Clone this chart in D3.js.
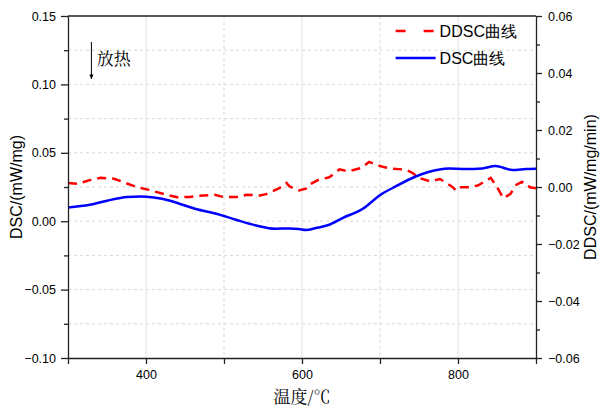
<!DOCTYPE html>
<html>
<head>
<meta charset="utf-8">
<script src="https://cdn.jsdelivr.net/npm/d3@7"></script>
<style>
  body { margin: 0; background: #fff; }
  text { font-family: "Liberation Sans", Arial, sans-serif; }
</style>
</head>
<body>
<div id="chart"></div>
<script>
// DSC curve (left axis)
const dscTemp   = [300, 328, 350, 376, 393, 410, 431, 447, 464, 490, 515, 541, 566, 584, 596, 605, 618, 635, 652, 678, 701, 720, 745, 762, 788, 809, 831, 848, 870, 887, 900];
const dscValues = [0.0101, 0.012, 0.015, 0.0177, 0.0181, 0.0174, 0.015, 0.012, 0.0089, 0.0055, 0.0011, -0.0031, -0.0055, -0.0053, -0.0057, -0.0064, -0.005, -0.0026, 0.0023, 0.0091, 0.0194, 0.0254, 0.0325, 0.036, 0.0386, 0.0381, 0.0386, 0.0403, 0.0374, 0.0381, 0.0384];

// DDSC curve (right axis)
const ddscTemp   = [300, 312, 329, 342, 359, 374, 389, 404, 423, 440, 456, 469, 488, 499, 518, 529, 546, 554, 571, 580, 584, 596, 605, 609, 622, 635, 648, 659, 676, 686, 695, 706, 716, 733, 742, 750, 764, 777, 792, 798, 804, 815, 826, 842, 850, 858, 867, 875, 882, 888, 892, 900];
const ddscValues = [0.0014, 0.0011, 0.0025, 0.0032, 0.0029, 0.0014, -0.0001, -0.001, -0.0025, -0.0036, -0.0035, -0.0031, -0.0027, -0.0035, -0.0035, -0.0027, -0.003, -0.0025, -0.0004, 0.0014, 0.0002, -0.0012, -0.0006, 0.0008, 0.0026, 0.0034, 0.0062, 0.0055, 0.0067, 0.0088, 0.0078, 0.0069, 0.0064, 0.0061, 0.0049, 0.0032, 0.002, 0.0028, 0.0002, -0.0013, -0.0001, -0.0001, 0.0006, 0.0032, 0.0, -0.0039, -0.0025, 0.0008, 0.0018, 0.0011, -0.0001, -0.0004];

const xTicks = [400, 600, 800];
const xMinorTicks = [300, 500, 700, 900];
const yLeftTicks = [-0.10, -0.05, 0.00, 0.05, 0.10, 0.15];
const yRightTicks = [-0.06, -0.04, -0.02, 0.00, 0.02, 0.04, 0.06];

const seriesNames = ["DDSC曲线", "DSC曲线"];
const seriesColors = ["#ff0000", "#0000ff"];

const margin = {top: 16, right: 64, bottom: 54, left: 68};
const W = 600, H = 412;
const width = W - margin.left - margin.right;
const height = H - margin.top - margin.bottom;

const svg = d3.select("#chart").append("svg")
    .attr("width", W)
    .attr("height", H)
    .append("g")
    .attr("transform", `translate(${margin.left},${margin.top})`);

const x = d3.scaleLinear().domain([300, 900]).range([0, width]);
const yL = d3.scaleLinear().domain([-0.10, 0.15]).range([height, 0]);
const yR = d3.scaleLinear().domain([-0.06, 0.06]).range([height, 0]);

// grid
const grid = svg.append("g").attr("class", "grid");
d3.range(-0.075, 0.15, 0.025).forEach(v => {
    grid.append("line")
        .attr("x1", 0).attr("x2", width)
        .attr("y1", yL(v)).attr("y2", yL(v))
        .attr("stroke", "#d8d8d8").attr("stroke-width", 1)
        .attr("stroke-dasharray", "3,3");
});
d3.range(400, 900, 100).forEach(v => {
    grid.append("line")
        .attr("x1", x(v)).attr("x2", x(v))
        .attr("y1", 0).attr("y2", height)
        .attr("stroke", v % 200 === 0 ? "#e0e0e0" : "#d8d8d8")
        .attr("stroke-width", 1)
        .attr("stroke-dasharray", v % 200 === 0 ? null : "3,3");
});

// curves
const clip = svg.append("clipPath").attr("id", "clip")
    .append("rect").attr("width", width).attr("height", height);

const dscData = dscTemp.map((t, i) => ({t: t, v: dscValues[i]}));
const ddscData = ddscTemp.map((t, i) => ({t: t, v: ddscValues[i]}));

const dscLine = d3.line().curve(d3.curveMonotoneX)
    .x(d => x(d.t)).y(d => yL(d.v));
const ddscLine = d3.line().curve(d3.curveLinear)
    .x(d => x(d.t)).y(d => yR(d.v));

svg.append("path")
    .datum(ddscData)
    .attr("clip-path", "url(#clip)")
    .attr("fill", "none")
    .attr("stroke", seriesColors[0])
    .attr("stroke-width", 2.5)
    .attr("stroke-dasharray", "9,6")
    .attr("d", ddscLine);

svg.append("path")
    .datum(dscData)
    .attr("clip-path", "url(#clip)")
    .attr("fill", "none")
    .attr("stroke", seriesColors[1])
    .attr("stroke-width", 2.5)
    .attr("d", dscLine);

// axes
const axisColor = "#222";
function styleAxis(g) {
    g.selectAll("path, line").attr("stroke", axisColor).attr("stroke-width", 1.3);
    g.selectAll("text").attr("fill", "#000").style("font-size", "12.5px");
}

const xAxis = svg.append("g")
    .attr("transform", `translate(0,${height})`)
    .call(d3.axisBottom(x).tickValues(xTicks).tickSize(6).tickSizeOuter(0).tickPadding(6));
xAxis.call(styleAxis);
svg.append("g")
    .attr("transform", `translate(0,${height})`)
    .call(d3.axisBottom(x).tickValues(xMinorTicks).tickSize(6).tickSizeOuter(0).tickFormat(""))
    .call(styleAxis).select(".domain").remove();

svg.append("line")
    .attr("x1", 0).attr("x2", width).attr("y1", 0).attr("y2", 0)
    .attr("stroke", axisColor).attr("stroke-width", 1.3);

const yLAxis = svg.append("g")
    .call(d3.axisLeft(yL).tickValues(yLeftTicks).tickSize(7).tickSizeOuter(0).tickPadding(5).tickFormat(d3.format(".2f")));
yLAxis.call(styleAxis);
svg.append("g")
    .call(d3.axisLeft(yL).tickValues(d3.range(-0.075, 0.15, 0.05)).tickSize(4).tickSizeOuter(0).tickFormat(""))
    .call(styleAxis).select(".domain").remove();

const yRAxis = svg.append("g")
    .attr("transform", `translate(${width},0)`)
    .call(d3.axisRight(yR).tickValues(yRightTicks).tickSize(6).tickSizeOuter(0).tickPadding(6).tickFormat(d3.format(".2f")));
yRAxis.call(styleAxis);
svg.append("g")
    .attr("transform", `translate(${width},0)`)
    .call(d3.axisRight(yR).tickValues(d3.range(-0.05, 0.06, 0.02)).tickSize(4).tickSizeOuter(0).tickFormat(""))
    .call(styleAxis).select(".domain").remove();

// axis titles
svg.append("text")
    .attr("x", width / 2)
    .attr("y", height + 45)
    .attr("text-anchor", "middle")
    .style("font-family", "'Noto Serif CJK SC', 'Noto Sans CJK SC', serif")
    .style("font-size", "17px")
    .text("温度/℃");

svg.append("text")
    .attr("transform", `translate(${-46},${height / 2}) rotate(-90)`)
    .attr("text-anchor", "middle")
    .style("font-size", "16px")
    .text("DSC/(mW/mg)");

svg.append("text")
    .attr("transform", `translate(${width + 60},${height / 2}) rotate(-90)`)
    .attr("text-anchor", "middle")
    .style("font-size", "16px")
    .text("DDSC/(mW/mg/min)");

// exotherm annotation
svg.append("defs").append("marker")
    .attr("id", "arrow")
    .attr("viewBox", "0 0 10 10")
    .attr("refX", 9).attr("refY", 5)
    .attr("markerWidth", 5).attr("markerHeight", 8)
    .attr("orient", "auto")
    .append("path").attr("d", "M0,1L10,5L0,9Z").attr("fill", "#000");

svg.append("line")
    .attr("x1", x(330)).attr("x2", x(330))
    .attr("y1", yL(0.131)).attr("y2", yL(0.104))
    .attr("stroke", "#000").attr("stroke-width", 1)
    .attr("marker-end", "url(#arrow)");

svg.append("text")
    .attr("x", x(337))
    .attr("y", yL(0.114))
    .style("font-family", "'Noto Serif CJK SC', 'Noto Sans CJK SC', serif")
    .style("font-size", "17px")
    .text("放热");

// legend
const legend = svg.append("g").attr("transform", `translate(${x(720)},0)`);
seriesNames.forEach((name, i) => {
    const ly = 15 + i * 27;
    legend.append("line")
        .attr("x1", 0).attr("x2", 40)
        .attr("y1", ly).attr("y2", ly)
        .attr("stroke", seriesColors[i])
        .attr("stroke-width", 2.5)
        .attr("stroke-dasharray", i === 0 ? "10,18" : null);
    legend.append("text")
        .attr("x", 44)
        .attr("y", ly + 6)
        .style("font-size", "16px")
        .text(name);
});
</script>
</body>
</html>
